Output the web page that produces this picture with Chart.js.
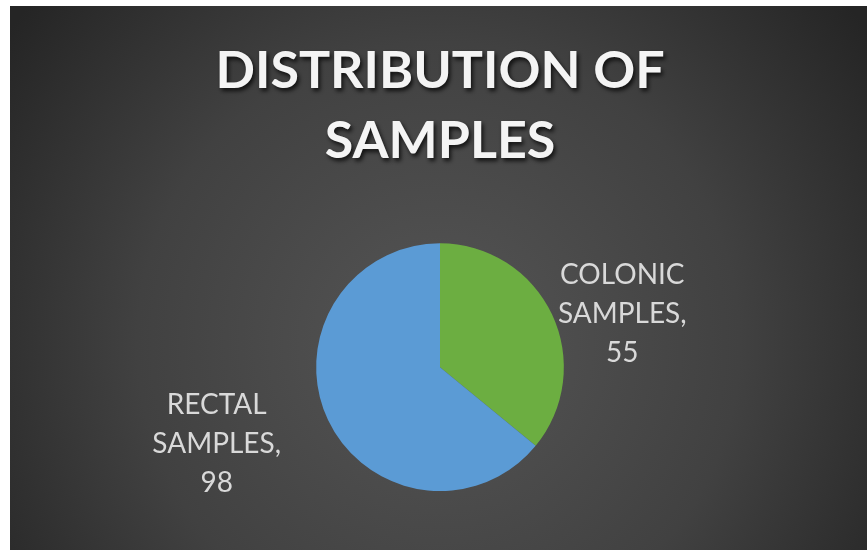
<!DOCTYPE html>
<html lang="en">

<head>
    <meta charset="UTF-8">
    <title>Distribution of Samples</title>
    <script src="https://cdn.jsdelivr.net/npm/chart.js@4.4.0/dist/chart.umd.min.js"></script>
    <style>
        html, body { margin: 0; padding: 0; background: #ffffff; }
        #wrap { position: absolute; left: 10px; top: 6px; width: 857px; height: 544px; }
    </style>
</head>

<body>
    <div id="wrap"><canvas id="myChart"></canvas></div>

    <script>
        const titleLines = ["DISTRIBUTION OF", "SAMPLES"];
        const categories = ["COLONIC SAMPLES", "RECTAL SAMPLES"];
        const sampleCounts = [55, 98];
        const sliceColors = ["#6cae41", "#5b9bd5"];

        // background: dark radial gradient, title gets a drop shadow
        const backdrop = {
            id: "backdrop",
            beforeDraw(chart) {
                const ctx = chart.ctx;
                const w = chart.width, h = chart.height;
                const g = ctx.createRadialGradient(w / 2, h * 0.62, 20, w / 2, h * 0.62, w * 0.62);
                g.addColorStop(0, "#545454");
                g.addColorStop(0.55, "#414141");
                g.addColorStop(1, "#252525");
                ctx.fillStyle = g;
                ctx.fillRect(0, 0, w, h);
                ctx.shadowColor = "rgba(0,0,0,0.75)";
                ctx.shadowOffsetX = 2;
                ctx.shadowOffsetY = 3;
                ctx.shadowBlur = 4;
            },
            beforeDatasetsDraw(chart) {
                const ctx = chart.ctx;
                ctx.shadowColor = "rgba(0,0,0,0)";
                ctx.shadowOffsetX = 0;
                ctx.shadowOffsetY = 0;
                ctx.shadowBlur = 0;
            }
        };

        // outside data labels: "NAME," + value, placed next to each slice
        const sliceLabels = {
            id: "sliceLabels",
            afterDatasetsDraw(chart, args, opts) {
                const ctx = chart.ctx;
                const meta = chart.getDatasetMeta(0);
                ctx.save();
                ctx.font = opts.size + "px Lato";
                ctx.fillStyle = opts.color;
                ctx.textAlign = "center";
                ctx.textBaseline = "middle";
                meta.data.forEach((arc, i) => {
                    const words = chart.data.labels[i].split(" ");
                    const lines = [words[0], words.slice(1).join(" ") + ",", String(chart.data.datasets[0].data[i])];
                    const mid = (arc.startAngle + arc.endAngle) / 2;
                    const ex = arc.x + Math.cos(mid) * arc.outerRadius;
                    const ey = arc.y + Math.sin(mid) * arc.outerRadius;
                    const maxW = Math.max(...lines.map(l => ctx.measureText(l).width));
                    const off = opts.offsets[i];
                    const side = Math.cos(mid) >= 0 ? 1 : -1;
                    const cx = ex + side * (off[0] + maxW / 2);
                    const cy = ey + off[1];
                    lines.forEach((l, k) => {
                        ctx.fillText(l, cx, cy + (k - 1) * opts.lineGap);
                    });
                });
                ctx.restore();
            }
        };

        new Chart("myChart", {
            type: "pie",
            data: {
                labels: categories,
                datasets: [{
                    data: sampleCounts,
                    backgroundColor: sliceColors,
                    borderWidth: 0
                }]
            },
            options: {
                responsive: true,
                maintainAspectRatio: false,
                animation: false,
                layout: { padding: { top: 0, bottom: 59, left: 3, right: 0 } },
                plugins: {
                    legend: { display: false },
                    tooltip: { enabled: false },
                    title: {
                        display: true,
                        text: titleLines,
                        color: "#f4f4f4",
                        font: { family: "Lato", size: 52, weight: "bold", lineHeight: 1.33 },
                        padding: { top: 31, bottom: 68 }
                    },
                    sliceLabels: { size: 28, color: "#d9d9d9", lineGap: 39, offsets: [[6, 0], [47, 24]] }
                }
            },
            plugins: [backdrop, sliceLabels]
        });
    </script>

</body>

</html>
